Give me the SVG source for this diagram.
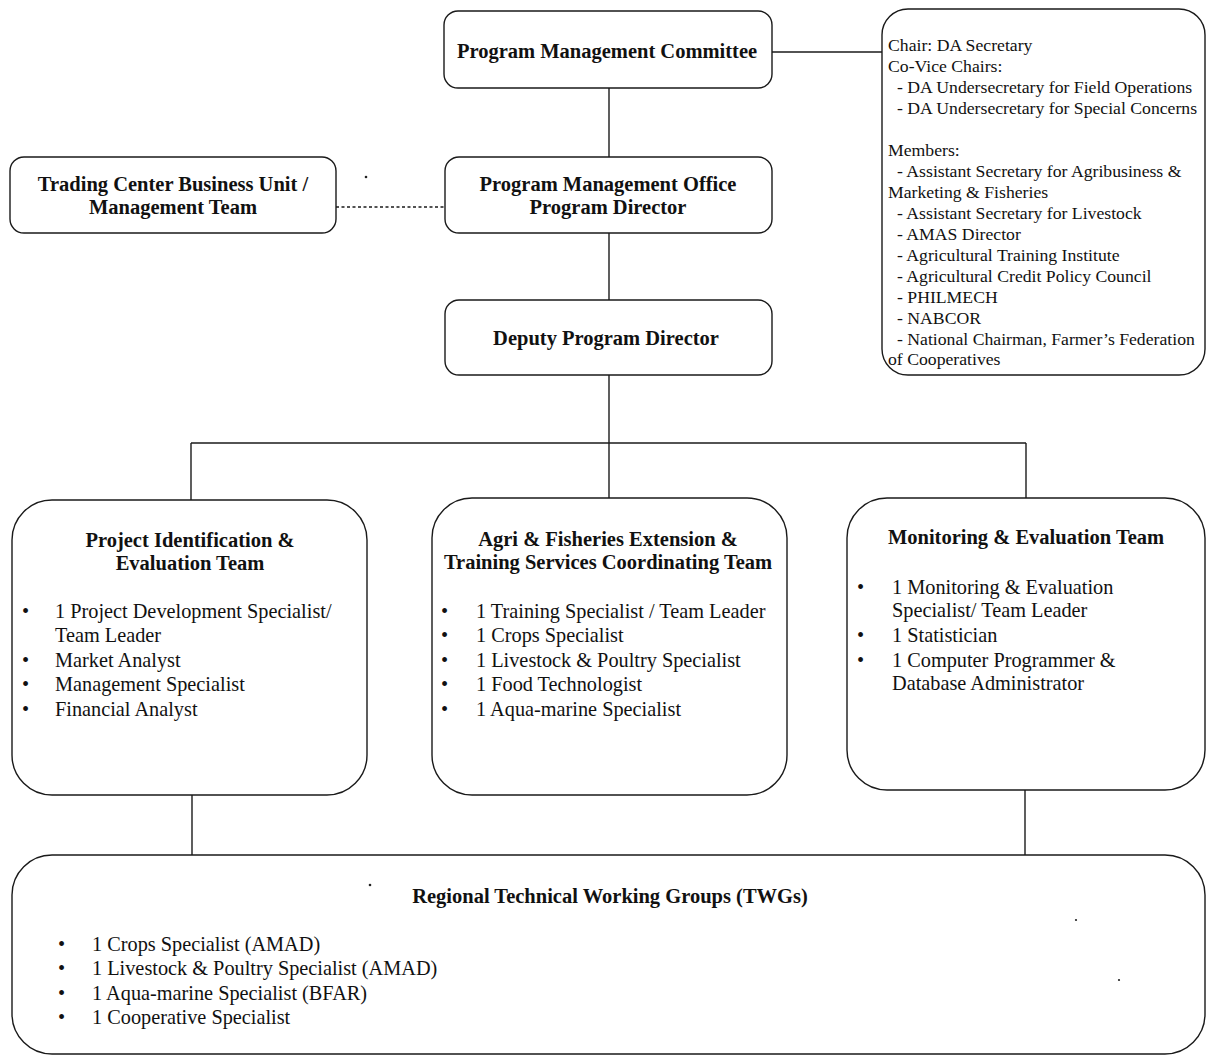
<svg xmlns="http://www.w3.org/2000/svg" width="1211" height="1057" viewBox="0 0 1211 1057">
<style>
.box{fill:#fff;stroke:#1a1a1a;stroke-width:1.4}
.ln{fill:none;stroke:#1a1a1a;stroke-width:1.4}
.dash{fill:none;stroke:#1a1a1a;stroke-width:1.3;stroke-dasharray:3 2.5}
.t{font-family:"Liberation Serif","Times New Roman",serif;fill:#111}
.b{font-weight:bold;font-size:20.5px;text-anchor:middle}
.r{font-size:20.3px}
.s{font-size:17.7px}
.dot{fill:#222}
</style>
<rect width="1211" height="1057" fill="#fff"/>
<g id="connectors">
<line class="ln" x1="772" y1="52" x2="882" y2="52"/>
<line class="ln" x1="609" y1="88" x2="609" y2="157"/>
<line class="dash" x1="336" y1="207" x2="445" y2="207"/>
<line class="ln" x1="609" y1="233" x2="609" y2="300"/>
<line class="ln" x1="609" y1="375" x2="609" y2="443"/>
<line class="ln" x1="191" y1="443" x2="1026" y2="443"/>
<line class="ln" x1="191" y1="443" x2="191" y2="500"/>
<line class="ln" x1="609" y1="443" x2="609" y2="498"/>
<line class="ln" x1="1026" y1="443" x2="1026" y2="498"/>
<line class="ln" x1="192" y1="795" x2="192" y2="855"/>
<line class="ln" x1="1025" y1="790" x2="1025" y2="855"/>
</g>
<g id="pmc">
<rect class="box" x="444" y="11" width="328" height="77" rx="14"/>
<text class="t b" x="607" y="58">Program Management Committee</text>
</g>
<g id="committee-members">
<rect class="box" x="882" y="9" width="323" height="366" rx="26"/>
<g class="t s">
<text x="888" y="51">Chair: DA Secretary</text>
<text x="888" y="72">Co-Vice Chairs:</text>
<text x="897" y="93">- DA Undersecretary for Field Operations</text>
<text x="897" y="114">- DA Undersecretary for Special Concerns</text>
<text x="888" y="156">Members:</text>
<text x="897" y="177">- Assistant Secretary for Agribusiness &amp;</text>
<text x="888" y="198">Marketing &amp; Fisheries</text>
<text x="897" y="219">- Assistant Secretary for Livestock</text>
<text x="897" y="240">- AMAS Director</text>
<text x="897" y="261">- Agricultural Training Institute</text>
<text x="897" y="282">- Agricultural Credit Policy Council</text>
<text x="897" y="303">- PHILMECH</text>
<text x="897" y="324">- NABCOR</text>
<text x="897" y="345">- National Chairman, Farmer’s Federation</text>
<text x="888" y="365">of Cooperatives</text>
</g>
</g>
<g id="trading-center">
<rect class="box" x="10" y="157" width="326" height="76" rx="14"/>
<text class="t b" x="173" y="191">Trading Center Business Unit /</text>
<text class="t b" x="173" y="214">Management Team</text>
</g>
<g id="pmo">
<rect class="box" x="445" y="157" width="327" height="76" rx="14"/>
<text class="t b" x="608" y="191">Program Management Office</text>
<text class="t b" x="608" y="214">Program Director</text>
</g>
<g id="dpd">
<rect class="box" x="445" y="300" width="327" height="75" rx="14"/>
<text class="t b" x="606" y="345">Deputy Program Director</text>
</g>
<g id="project-identification">
<rect class="box" x="12" y="500" width="355" height="295" rx="40"/>
<text class="t b" x="190" y="547">Project Identification &amp;</text>
<text class="t b" x="190" y="570">Evaluation Team</text>
<g class="t r">
<text x="22" y="618">•</text><text x="55" y="618">1 Project Development Specialist/</text>
<text x="55" y="642">Team Leader</text>
<text x="22" y="667">•</text><text x="55" y="667">Market Analyst</text>
<text x="22" y="691">•</text><text x="55" y="691">Management Specialist</text>
<text x="22" y="716">•</text><text x="55" y="716">Financial Analyst</text>
</g>
</g>
<g id="extension-training">
<rect class="box" x="432" y="498" width="355" height="297" rx="40"/>
<text class="t b" x="608" y="546">Agri &amp; Fisheries Extension &amp;</text>
<text class="t b" x="608" y="569">Training Services Coordinating Team</text>
<g class="t r">
<text x="441" y="618">•</text><text x="476" y="618">1 Training Specialist / Team Leader</text>
<text x="441" y="642">•</text><text x="476" y="642">1 Crops Specialist</text>
<text x="441" y="667">•</text><text x="476" y="667">1 Livestock &amp; Poultry Specialist</text>
<text x="441" y="691">•</text><text x="476" y="691">1 Food Technologist</text>
<text x="441" y="716">•</text><text x="476" y="716">1 Aqua-marine Specialist</text>
</g>
</g>
<g id="monitoring-evaluation">
<rect class="box" x="847" y="498" width="358" height="292" rx="40"/>
<text class="t b" x="1026" y="544">Monitoring &amp; Evaluation Team</text>
<g class="t r">
<text x="857" y="594">•</text><text x="892" y="594">1 Monitoring &amp; Evaluation</text>
<text x="892" y="617">Specialist/ Team Leader</text>
<text x="857" y="642">•</text><text x="892" y="642">1 Statistician</text>
<text x="857" y="667">•</text><text x="892" y="667">1 Computer Programmer &amp;</text>
<text x="892" y="690">Database Administrator</text>
</g>
</g>
<g id="regional-twgs">
<rect class="box" x="12" y="855" width="1193" height="199" rx="40"/>
<text class="t b" x="610" y="903">Regional Technical Working Groups (TWGs)</text>
<g class="t r">
<text x="58" y="951">•</text><text x="92" y="951">1 Crops Specialist (AMAD)</text>
<text x="58" y="975">•</text><text x="92" y="975">1 Livestock &amp; Poultry Specialist (AMAD)</text>
<text x="58" y="1000">•</text><text x="92" y="1000">1 Aqua-marine Specialist (BFAR)</text>
<text x="58" y="1024">•</text><text x="92" y="1024">1 Cooperative Specialist</text>
</g>
</g>
<g id="specks">
<circle class="dot" cx="366" cy="177" r="1.3"/>
<circle class="dot" cx="370" cy="885" r="1.3"/>
<circle class="dot" cx="1076" cy="920" r="1.1"/>
<circle class="dot" cx="1119" cy="980" r="1.1"/>
</g>
</svg>
